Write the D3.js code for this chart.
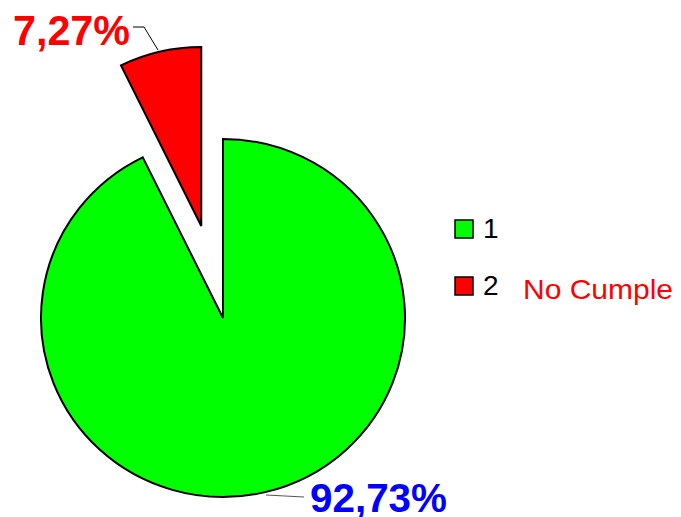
<!DOCTYPE html>
<html>
<head>
<meta charset="utf-8">
<script src="https://cdn.jsdelivr.net/npm/d3@7"></script>
<style>
  body { margin: 0; background: #fff; }
  svg { display: block; font-family: "Liberation Sans", Arial, sans-serif; }
</style>
</head>
<body>
<svg id="chart" width="681" height="517"></svg>
<script>
// data
let categories = ["1", "2"]
let values = [92.73, 7.27]
let labels = ["92,73%", "7,27%"]
let colors = ["#00ff00", "#ff0000"]
let legendNotes = ["", "No Cumple"]

let svg = d3.select('#chart')

let cx = 223, cy = 318
let rx = 182, ry = 179

// green starts at 12 o'clock going clockwise, red ends there
let pie = d3.pie()
    .sort(null)
    .startAngle(0)
    .endAngle(2 * Math.PI)

let slices = pie(values)

let arc = d3.arc().innerRadius(0).outerRadius(rx)

let explode = [0, 96]

let pieG = svg.append('g')
    .attr('transform', `translate(${cx},${cy}) scale(1,${ry / rx})`)

pieG.selectAll('.slice')
    .data(slices)
    .join('path')
    .attr('class', 'slice')
    .attr('d', arc)
    .attr('fill', (d, i) => colors[i])
    .attr('stroke', 'black')
    .attr('stroke-width', 2)
    .attr('vector-effect', 'non-scaling-stroke')
    .attr('transform', (d, i) => {
        let a = (d.startAngle + d.endAngle) / 2
        return `translate(${Math.sin(a) * explode[i]},${-Math.cos(a) * explode[i]})`
    })

// leader lines
svg.append('path')
    .attr('d', 'M133,27 L144,27 L158,50')
    .attr('fill', 'none')
    .attr('stroke', 'black')
    .attr('stroke-width', 1)

svg.append('path')
    .attr('d', 'M266,495 L304,497')
    .attr('fill', 'none')
    .attr('stroke', '#555')
    .attr('stroke-width', 1)

// value labels
svg.append('text')
    .attr('x', 13).attr('y', 45)
    .attr('font-size', 42).attr('font-weight', 'bold')
    .attr('textLength', 117).attr('lengthAdjust', 'spacingAndGlyphs')
    .attr('fill', colors[1])
    .text(labels[1])

svg.append('text')
    .attr('x', 310).attr('y', 512)
    .attr('font-size', 40).attr('font-weight', 'bold')
    .attr('textLength', 137).attr('lengthAdjust', 'spacingAndGlyphs')
    .attr('fill', '#0000ff')
    .text(labels[0])

// legend
let legend = svg.append('g')
    .selectAll('g')
    .data(categories)
    .join('g')
    .attr('transform', (d, i) => `translate(455,${220 + i * 57})`)

legend.append('rect')
    .attr('width', 18).attr('height', 18)
    .attr('fill', (d, i) => colors[i])
    .attr('stroke', 'black')
    .attr('stroke-width', 1.5)

legend.append('text')
    .attr('x', 28).attr('y', 18)
    .attr('font-size', 28)
    .attr('fill', 'black')
    .text(d => d)

legend.append('text')
    .attr('x', 68).attr('y', 22)
    .attr('font-size', 28)
    .attr('textLength', (d, i) => legendNotes[i] ? 150 : null)
    .attr('lengthAdjust', 'spacingAndGlyphs')
    .attr('fill', colors[1])
    .text((d, i) => legendNotes[i])
</script>
</body>
</html>
